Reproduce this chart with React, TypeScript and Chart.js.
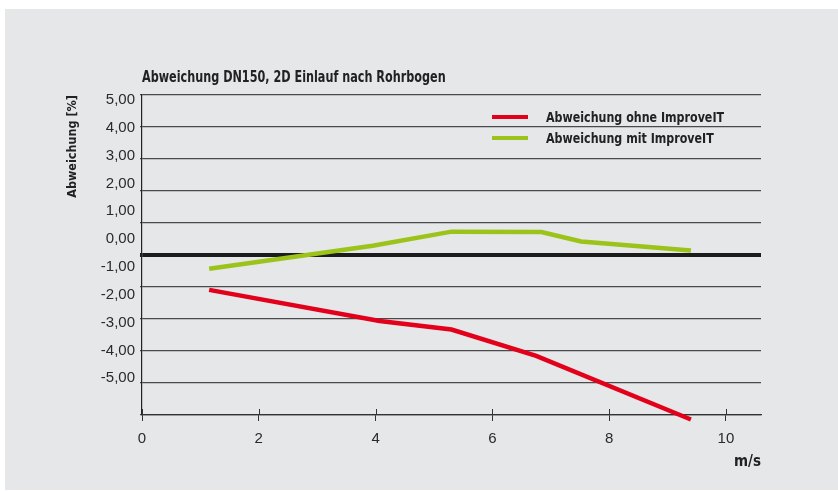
import React, { useEffect, useRef } from "react";
import { Chart, registerables } from "chart.js";

Chart.register(...registerables);

const TITLE = "Abweichung DN150, 2D Einlauf nach Rohrbogen";
const Y_TITLE = "Abweichung [%]";
const X_TITLE = "m/s";
const SERIES_NAMES = ["Abweichung ohne ImproveIT", "Abweichung mit ImproveIT"];
const SERIES_COLORS = ["#e2001a", "#9cc31a"];

const X_TICKS = [0, 2, 4, 6, 8, 10];
const Y_GRID = [-5, -4, -3, -2, -1, 0, 1, 2, 3, 4, 5];
const Y_LABELS = [5, 4, 3, 2, 1, 0, -1, -2, -3, -4, -5];

const RED_X = [1.15, 4.07, 5.3, 6.75, 9.4];
const RED_Y = [-1.09, -2.06, -2.33, -3.15, -5.14];
const GREEN_X = [1.15, 3.95, 5.3, 6.84, 7.52, 9.4];
const GREEN_Y = [-0.43, 0.29, 0.73, 0.72, 0.42, 0.14];

const NARROW = "'Liberation Sans Narrow', 'DejaVu Sans Condensed', 'Arial Narrow', sans-serif";
const REGULAR = "'Liberation Sans', Arial, sans-serif";

const crossTicks = {
  id: "crossTicks",
  beforeDatasetsDraw(chart: any) {
    const s = chart.scales.x;
    const ctx = chart.ctx;
    ctx.save();
    ctx.strokeStyle = "#333";
    ctx.lineWidth = 1;
    s.ticks.forEach((_t: any, i: number) => {
      const px = Math.round(s.getPixelForTick(i)) + 0.5;
      ctx.beginPath();
      ctx.moveTo(px, s.top - 6);
      ctx.lineTo(px, s.top);
      ctx.stroke();
    });
    ctx.restore();
  },
};

export default function App() {
  const ref = useRef<HTMLCanvasElement | null>(null);

  useEffect(() => {
    if (!ref.current) return;
    const chart = new Chart(ref.current, {
      type: "line",
      data: {
        datasets: [
          {
            label: SERIES_NAMES[0],
            data: RED_X.map((x, i) => ({ x, y: RED_Y[i] })),
            borderColor: SERIES_COLORS[0],
            backgroundColor: SERIES_COLORS[0],
            borderWidth: 4.5,
            pointRadius: 0,
            tension: 0,
            clip: false as any,
            xAxisID: "x",
            yAxisID: "y",
          },
          {
            label: SERIES_NAMES[1],
            data: GREEN_X.map((x, i) => ({ x, y: GREEN_Y[i] })),
            borderColor: SERIES_COLORS[1],
            backgroundColor: SERIES_COLORS[1],
            borderWidth: 4.5,
            pointRadius: 0,
            tension: 0,
            clip: false as any,
            xAxisID: "x",
            yAxisID: "y",
          },
        ],
      },
      options: {
        animation: false,
        responsive: false,
        devicePixelRatio: 1,
        layout: { padding: { left: 60, right: 77, top: 95, bottom: 20 } },
        plugins: {
          legend: { display: false },
          title: { display: false },
          tooltip: { enabled: false },
        },
        scales: {
          x: {
            type: "linear",
            position: "bottom",
            min: 0,
            max: 10.6,
            afterBuildTicks: (s: any) => {
              s.ticks = X_TICKS.map((v) => ({ value: v }));
            },
            afterFit: (s: any) => {
              s.height = 56;
            },
            ticks: {
              color: "#2a2a2a",
              font: { family: REGULAR, size: 15 },
              padding: 9,
              maxRotation: 0,
              autoSkip: false,
              callback: (v: any) => String(v),
            },
            grid: {
              drawOnChartArea: false,
              drawTicks: true,
              tickLength: 6,
              color: "#333",
              lineWidth: 1,
            },
            border: { display: true, color: "#333", width: 1.2 },
            title: {
              display: true,
              text: X_TITLE,
              align: "end",
              color: "#222",
              font: { family: NARROW, size: 15, weight: "bold" },
              padding: 0,
            },
          },
          y: {
            type: "linear",
            position: "left",
            weight: 0,
            min: -5,
            max: 5,
            afterBuildTicks: (s: any) => {
              s.ticks = Y_GRID.map((v) => ({ value: v }));
            },
            afterFit: (s: any) => {
              s.width = 2;
            },
            ticks: { display: false },
            grid: {
              drawTicks: true,
              tickLength: 2,
              color: (c: any) => (c.tick && c.tick.value === 0 ? "#1c1c1c" : "#4a4a4a"),
              lineWidth: (c: any) => (c.tick && c.tick.value === 0 ? 4 : 1.2),
            },
            border: { display: true, color: "#222", width: 1.2 },
          },
          y2: {
            type: "linear",
            position: "left",
            weight: 1,
            min: -6.32,
            max: 5.18,
            afterBuildTicks: (s: any) => {
              s.ticks = Y_LABELS.map((v) => ({ value: v }));
            },
            afterFit: (s: any) => {
              s.width = 80;
            },
            ticks: {
              color: "#2a2a2a",
              font: { family: REGULAR, size: 15 },
              padding: 5,
              autoSkip: false,
              callback: (v: any) => Number(v).toFixed(2).replace(".", ","),
            },
            grid: { display: false, drawTicks: false },
            border: { display: false },
            title: {
              display: true,
              text: Y_TITLE,
              align: "end",
              color: "#222",
              font: { family: NARROW, size: 12.5, weight: "bold" },
              padding: 5,
            },
          },
        },
      } as any,
      plugins: [crossTicks],
    });
    return () => chart.destroy();
  }, []);

  const textStyle: React.CSSProperties = {
    position: "absolute",
    fontFamily: NARROW,
    fontWeight: "bold",
    color: "#222",
    lineHeight: 1,
    whiteSpace: "nowrap",
    margin: 0,
    transformOrigin: "0 50%",
  };

  return (
    <div style={{ position: "fixed", left: 0, top: 0, width: 838, height: 491, background: "#ffffff", overflow: "hidden" }}>
      <div style={{ position: "absolute", left: 5, top: 9, width: 833, height: 481, background: "#e6e7e9" }} />
      <canvas ref={ref} width={838} height={491} style={{ position: "absolute", left: 0, top: 0, width: 838, height: 491 }} />
      <div style={{ ...textStyle, left: 142, top: 69, fontSize: 16, transform: "scaleX(0.78)" }}>{TITLE}</div>
      <div style={{ position: "absolute", left: 492, top: 115, width: 36, height: 4, background: SERIES_COLORS[0] }} />
      <div style={{ ...textStyle, left: 546, top: 110, fontSize: 14.5, transform: "scaleX(0.85)" }}>{SERIES_NAMES[0]}</div>
      <div style={{ position: "absolute", left: 492, top: 136, width: 36, height: 4, background: SERIES_COLORS[1] }} />
      <div style={{ ...textStyle, left: 546, top: 130.5, fontSize: 14.5, transform: "scaleX(0.85)" }}>{SERIES_NAMES[1]}</div>
    </div>
  );
}
